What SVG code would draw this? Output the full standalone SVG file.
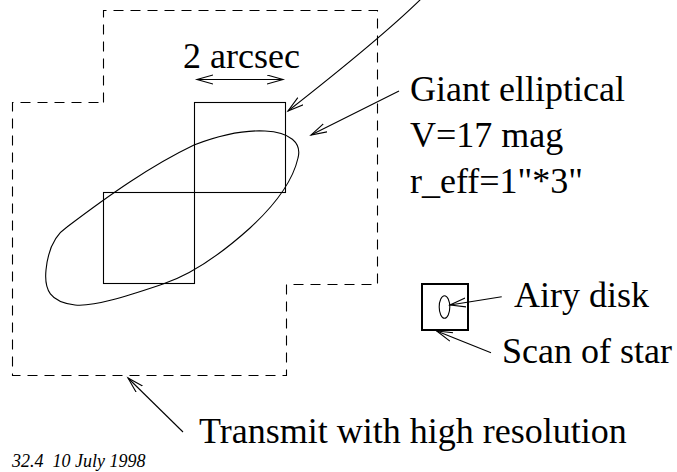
<svg xmlns="http://www.w3.org/2000/svg" width="677" height="472" viewBox="0 0 677 472">
  <style>
    .ln { fill: none; stroke: #000; stroke-width: 1.1; }
    .dash { fill: none; stroke: #000; stroke-width: 1.1; stroke-dasharray: 10 7; }
    .lbl { font-family: "Liberation Serif", "Times New Roman", serif; font-size: 36px; fill: #000; }
    .stamp { font-family: "Liberation Serif", "Times New Roman", serif; font-size: 18px; font-style: italic; fill: #000; }
    .arr { fill: none; stroke: #000; stroke-width: 1.1; marker-end: url(#head); }
  </style>
  <defs>
    <marker id="head" markerUnits="userSpaceOnUse" markerWidth="20" markerHeight="12" refX="16" refY="5" orient="auto-start-reverse">
      <path d="M0,0.5 L16,5 L0,9.5" fill="none" stroke="#000" stroke-width="1.1"/>
    </marker>
  </defs>

  <rect width="677" height="472" fill="#fff"/>

  <!-- transmitted field outline -->
  <g id="field">
    <path class="dash" d="M103.5,102.5 V10.5 H377.5 V284.5 H286.5 V375.5 H12.5 V102.5 Z"/>
  </g>

  <!-- two scan squares -->
  <g id="scan-squares">
    <rect class="ln" x="194.5" y="102.5" width="91" height="90"/>
    <rect class="ln" x="103.5" y="192.5" width="91" height="91"/>
  </g>

  <!-- galaxy outline -->
  <g id="galaxy">
    <path class="ln" d="M67,227 C108,196 150,166 194,145 C220,135 245,130 265,131 C290,132 302,143 298,158 C293,180 275,205 250,228 C220,255 190,275 163,284 C130,295 95,307 75,305 C50,302 44,290 46,270 C48,250 55,235 67,227 Z"/>
  </g>

  <!-- star scan box with Airy disk -->
  <g id="star">
    <rect x="422" y="284" width="46" height="46" fill="none" stroke="#000" stroke-width="2"/>
    <ellipse cx="444.5" cy="307" rx="5.3" ry="11.3" class="ln"/>
  </g>

  <g id="scale-label">
    <text class="lbl" x="183" y="68">2 arcsec</text>
  </g>

  <g id="galaxy-label">
    <text class="lbl" x="410" y="101">Giant elliptical</text>
    <text class="lbl" x="410" y="147">V=17 mag</text>
    <text class="lbl" x="410" y="193">r_eff=1"*3"</text>
  </g>

  <g id="airy-label">
    <text class="lbl" x="514" y="307">Airy disk</text>
  </g>

  <g id="scan-label">
    <text class="lbl" x="502" y="363">Scan of star</text>
  </g>

  <g id="transmit-label">
    <text class="lbl" x="199" y="443">Transmit with high resolution</text>
  </g>

  <g id="stamp">
    <text class="stamp" x="12" y="466.5" xml:space="preserve">32.4  10 July 1998</text>
  </g>

  <!-- connectors -->
  <g id="connectors">
    <line x1="197" y1="79.5" x2="283" y2="79.5" class="ln" marker-start="url(#head)" marker-end="url(#head)"/>
    <path class="arr" d="M424,-4 Q385,35 288,111"/>
    <line class="arr" x1="399" y1="91" x2="311" y2="135"/>
    <line class="arr" x1="501.7" y1="296.7" x2="450" y2="305"/>
    <line class="arr" x1="491" y1="352.7" x2="436.7" y2="331"/>
    <line class="arr" x1="183" y1="432" x2="128" y2="378"/>
  </g>
</svg>
